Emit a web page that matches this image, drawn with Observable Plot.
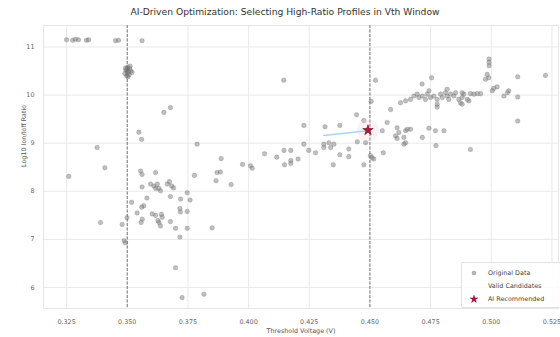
<!DOCTYPE html>
<html>
<head>
<meta charset="utf-8">
<script src="https://cdn.jsdelivr.net/npm/d3@7"></script>
<script src="https://cdn.jsdelivr.net/npm/@observablehq/plot@0.6"></script>
<style>
  body { margin: 0; background: #fff; }
  #wrap { position: relative; width: 560px; height: 337px; overflow: hidden; background: #fff; font-family: "DejaVu Sans", sans-serif; }
  #title { height: 22px; line-height: 24px; font-size: 9.2px; color: #333; text-align: center; width: 560px; padding-left: 10px; box-sizing: border-box; white-space: nowrap; }
  #legend { position: absolute; left: 461px; top: 262px; width: 110px; height: 44px; border: 1px solid #e2e2e2; border-radius: 2px; background: rgba(255,255,255,0.85); font-size: 6.4px; color: #444; }
  #legend .row { position: absolute; left: 0; height: 12px; line-height: 12px; white-space: nowrap; }
  #legend svg { position: absolute; left: 6px; top: 0; }
  #legend span { position: absolute; left: 26px; }
</style>
</head>
<body>
<div id="wrap">
  <div id="title">AI-Driven Optimization: Selecting High-Ratio Profiles in Vth Window</div>
  <div id="chart"></div>
  <div id="legend">
    <div class="row" style="top:4px"><svg width="16" height="12"><circle cx="6" cy="6" r="2" fill="#888" fill-opacity="0.6" stroke="#666" stroke-opacity="0.5" stroke-width="0.6"/></svg><span>Original Data</span></div>
    <div class="row" style="top:17px"><span>Valid Candidates</span></div>
    <div class="row" style="top:30px"><svg width="16" height="12"><path d="M6,2.2 L6.95,4.9 L9.8,4.9 L7.5,6.6 L8.35,9.4 L6,7.7 L3.65,9.4 L4.5,6.6 L2.2,4.9 L5.05,4.9 Z" fill="#b3153a" stroke="#5a0515" stroke-width="0.4"/></svg><span>AI Recommended</span></div>
  </div>
</div>
<script>
// ---- data ----
const vth = [
  // top row
  0.3250,0.3275,0.3287,0.3299,0.3332,0.3341,0.3452,0.3464,0.3561,
  // dense cluster near 0.350
  0.3500,0.3500,0.3500,0.3495,0.3505,0.3490,0.3510,0.3498,0.3502,0.3508,0.3515,0.3520,0.3493,0.3503,0.3512,
  // left region
  0.3651,0.3678,0.3548,0.3559,0.3788,0.3376,0.3408,0.3259,0.3555,0.3561,0.3617,0.3777,
  0.3561,0.3596,0.3610,0.3617,0.3630,0.3624,0.3637,0.3665,0.3674,0.3683,0.3691,0.3747,
  0.3759,0.3678,0.3720,0.3581,0.3518,0.3568,0.3560,0.3541,0.3717,0.3719,0.3747,0.3603,
  0.3617,0.3641,0.3644,0.3562,0.3557,0.3627,0.3631,0.3637,0.3499,0.3479,0.3390,0.3678,
  0.3699,0.3747,0.3717,0.3487,0.3493,0.3699,0.3726,0.3816,0.3850,
  // middle region
  0.3870,0.3884,0.3866,0.3887,0.3928,0.3975,0.4008,0.4015,0.4066,0.4116,0.4146,0.4174,
  0.4148,0.4174,0.4174,0.4204,0.4145,0.4228,0.4228,0.4248,0.4276,0.4315,0.4376,0.4310,
  0.4310,0.4331,0.4351,0.4338,0.4376,0.4413,0.4413,0.4349,0.4445,0.4475,0.4448,0.4482,
  0.4475,
  // right region
  0.4523,0.4505,0.4585,0.4571,0.4551,0.4612,0.4619,0.4605,0.4612,0.4647,0.4654,0.4640,
  0.4647,0.4640,0.4667,0.4716,0.4743,0.4770,0.4805,0.4772,0.4914,0.4502,0.4509,0.4516,
  0.4555,0.5109,0.5109,0.5109,0.5223,0.4991,0.4991,0.4991,0.4983,0.4990,0.4976,0.5010,
  0.5024,0.5004,0.5052,0.5067,0.5072,0.4956,0.4942,0.4928,0.4914,0.4715,0.4754,
  // upper band
  0.4626,0.4647,0.4667,0.4681,0.4695,0.4702,0.4716,0.4729,0.4736,0.4743,0.4750,0.4763,
  0.4777,0.4791,0.4798,0.4811,0.4818,0.4825,0.4832,0.4846,0.4853,0.4866,0.4873,0.4880,
  0.4887,0.4901,0.4908,0.4777,0.4777,0.4880,0.4818,0.4880
];
const logRatio = [
  11.15,11.14,11.16,11.15,11.14,11.15,11.13,11.14,11.13,
  10.55,10.50,10.45,10.52,10.48,10.45,10.55,10.40,10.58,10.42,10.50,10.47,10.56,10.38,10.60,
  9.64,9.74,9.23,9.08,8.98,8.91,8.49,8.31,8.42,8.35,8.39,8.33,
  8.09,8.15,8.11,8.06,8.06,8.15,8.01,8.15,8.20,8.11,8.07,7.97,
  7.82,7.89,7.84,7.86,7.77,7.70,7.67,7.55,7.64,7.57,7.58,7.53,
  7.50,7.52,7.46,7.42,7.35,7.39,7.35,7.28,7.45,7.31,7.35,7.37,
  7.23,7.23,7.05,6.97,6.93,6.41,5.79,5.86,7.24,
  8.39,8.40,8.22,8.68,8.14,8.56,8.53,8.48,8.78,8.71,8.85,8.85,
  8.55,8.64,8.58,8.67,10.31,9.37,8.98,8.85,8.80,9.34,9.37,8.98,
  8.91,9.01,8.98,8.91,8.76,8.88,8.72,8.55,9.59,9.47,9.03,9.01,
  8.55,
  10.31,9.87,9.70,9.43,9.26,9.32,9.22,9.15,9.10,9.26,9.29,9.12,
  9.01,8.98,9.29,9.12,9.31,9.26,9.26,8.95,8.87,8.74,8.70,8.67,
  8.80,9.46,9.96,10.38,10.41,10.75,10.68,10.61,10.43,10.36,10.33,10.14,
  10.17,10.09,9.98,10.05,10.09,10.03,10.03,10.02,10.03,10.23,10.36,
  9.84,9.88,9.91,9.98,10.02,9.95,9.98,9.91,10.02,10.09,9.95,9.98,
  9.91,10.02,9.95,10.05,9.98,9.91,10.02,9.98,10.05,9.91,9.84,9.95,
  10.02,9.91,9.88,9.75,9.81,9.81,10.12,10.05
];
const windowBounds = [0.350, 0.450];
const recommended = { vth: 0.4492, logRatio: 9.27 };
const pathVth = [0.4310, 0.4488];
const pathRatio = [9.16, 9.26];
const xTicks = [0.325, 0.350, 0.375, 0.400, 0.425, 0.450, 0.475, 0.500, 0.525];
const yTicks = [6, 7, 8, 9, 10, 11];

const points = vth.map((v, i) => ({ vth: v, r: logRatio[i] }));
const path = pathVth.map((v, i) => ({ vth: v, r: pathRatio[i] }));

const chart = Plot.plot({
  width: 560,
  height: 315,
  marginTop: 3,
  marginBottom: 29,
  marginLeft: 43,
  marginRight: 2,
  style: { fontFamily: "DejaVu Sans, sans-serif", fontSize: "6.4px", color: "#444", background: "#fff" },
  x: { domain: [0.3155, 0.5277], ticks: xTicks, tickFormat: d3.format(".3f"), label: null },
  y: { domain: [5.563, 11.447], ticks: yTicks, tickFormat: d3.format("d"), label: null },
  marks: [
    Plot.gridX(xTicks, { stroke: "#e6e6e6", strokeOpacity: 1, strokeWidth: 0.9 }),
    Plot.gridY(yTicks, { stroke: "#e6e6e6", strokeOpacity: 1, strokeWidth: 0.9 }),
    Plot.frame({ stroke: "#e6e6e6" }),
    Plot.axisX(xTicks, { tickSize: 0, tickPadding: 11, fill: "#666", tickFormat: d3.format(".3f") }),
    Plot.axisY(yTicks, { tickSize: 0, tickPadding: 9, fill: "#666", tickFormat: d3.format("d") }),
    Plot.ruleX(windowBounds, { stroke: "#666", strokeWidth: 0.9, strokeDasharray: "3,1.5" }),
    Plot.dot(points, { x: "vth", y: "r", r: 2.3, fill: "#808080", fillOpacity: 0.5, stroke: "#555", strokeOpacity: 0.35, strokeWidth: 0.6 }),
    Plot.dot([recommended], { x: "vth", y: "logRatio", r: 11, fill: "#f7c9d3", fillOpacity: 0.25, stroke: "none" }),
    Plot.line(path, { x: "vth", y: "r", stroke: "#a8d4ec", strokeWidth: 1.4 }),
    Plot.dot([recommended], { x: "vth", y: "logRatio", r: 3.3, symbol: "star", fill: "#b3153a", stroke: "#4a0410", strokeWidth: 0.5 }),
    Plot.text(["Threshold Voltage (V)"], { frameAnchor: "bottom", dy: 24, fill: "#555", fontSize: 6.4 }),
    Plot.text(["Log10 Ion/Ioff Ratio"], { frameAnchor: "left", dx: -20, rotate: -90, fill: "#555", fontSize: 6.4 })
  ]
});
document.getElementById("chart").appendChild(chart);
</script>
</body>
</html>
